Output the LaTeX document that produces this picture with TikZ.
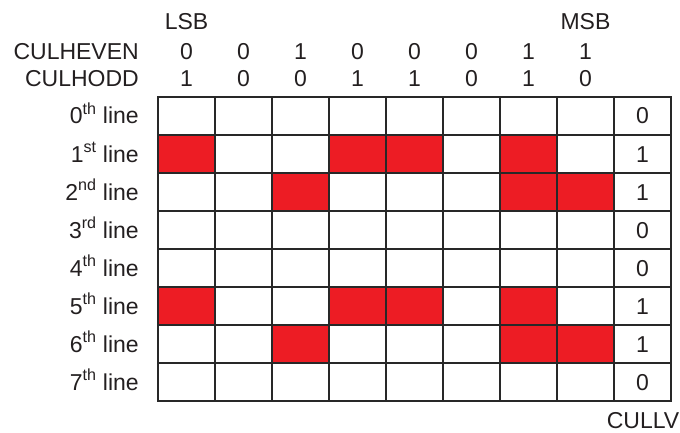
\documentclass[tikz,border=0pt]{standalone}
\usepackage{fontspec}
\setmainfont{Liberation Sans}
\usepackage{tikz}
\usetikzlibrary{positioning, calc}
\definecolor{cellred}{RGB}{237, 28, 36}
\definecolor{inkgray}{RGB}{35, 31, 32}
\definecolor{linegray}{RGB}{40, 40, 40}
\tikzstyle{lbl} = [inner sep=0pt, anchor=base, text=inkgray, font=\fontsize{23}{27}\selectfont]
\tikzstyle{rowlbl} = [lbl, anchor=base east]
\tikzstyle{gridline} = [draw=linegray, line width=1.6pt]
\tikzstyle{frame} = [draw=linegray, line width=2.2pt]

\begin{document}
\begin{tikzpicture}[x=1pt, y=-1pt]
    \useasboundingbox (0,0) rectangle (680,433);

    % Bit order
    \node[lbl] (lsb) at (186.5,30) {LSB};
    \node[lbl] (msb) at (585.5,30) {MSB};

    % Register names
    \node[rowlbl] (culheven) at (139,60) {CULHEVEN};
    \node[rowlbl] (culhodd) at (139,87) {CULHODD};

    % Register bits
    \foreach \b [count=\i from 0] in {0,0,1,0,0,0,1,1}
        \node[lbl] (even\i) at ({186.5+57*\i},60) {\b};
    \foreach \b [count=\i from 0] in {1,0,0,1,1,0,1,0}
        \node[lbl] (odd\i) at ({186.5+57*\i},87) {\b};

    % Culled cells
    \foreach \r/\c in {1/0,1/3,1/4,1/6,2/2,2/6,2/7,5/0,5/3,5/4,5/6,6/2,6/6,6/7}
        \fill[cellred] ({158+57*\c},{97+38*\r}) rectangle +(57,38);

    % Grid
    \foreach \c in {1,...,8}
        \draw[gridline] ({158+57*\c},97) -- ({158+57*\c},401);
    \foreach \r in {1,...,7}
        \draw[gridline] (158,{97+38*\r}) -- (671,{97+38*\r});
    \draw[frame] (158,97) rectangle (671,401);

    % Line names and CULLV bits
    \foreach \s/\v [count=\i from 0] in {th/0,st/1,nd/1,rd/0,th/0,th/1,th/1,th/0} {
        \node[rowlbl] (line\i) at (139,{124+38*\i}) {\i\textsuperscript{\s} line};
        \node[lbl] (lv\i) at (642.5,{124+38*\i}) {\v};
    }
    \node[lbl] (cullv) at (643,428) {CULLV};
\end{tikzpicture}
\end{document}
